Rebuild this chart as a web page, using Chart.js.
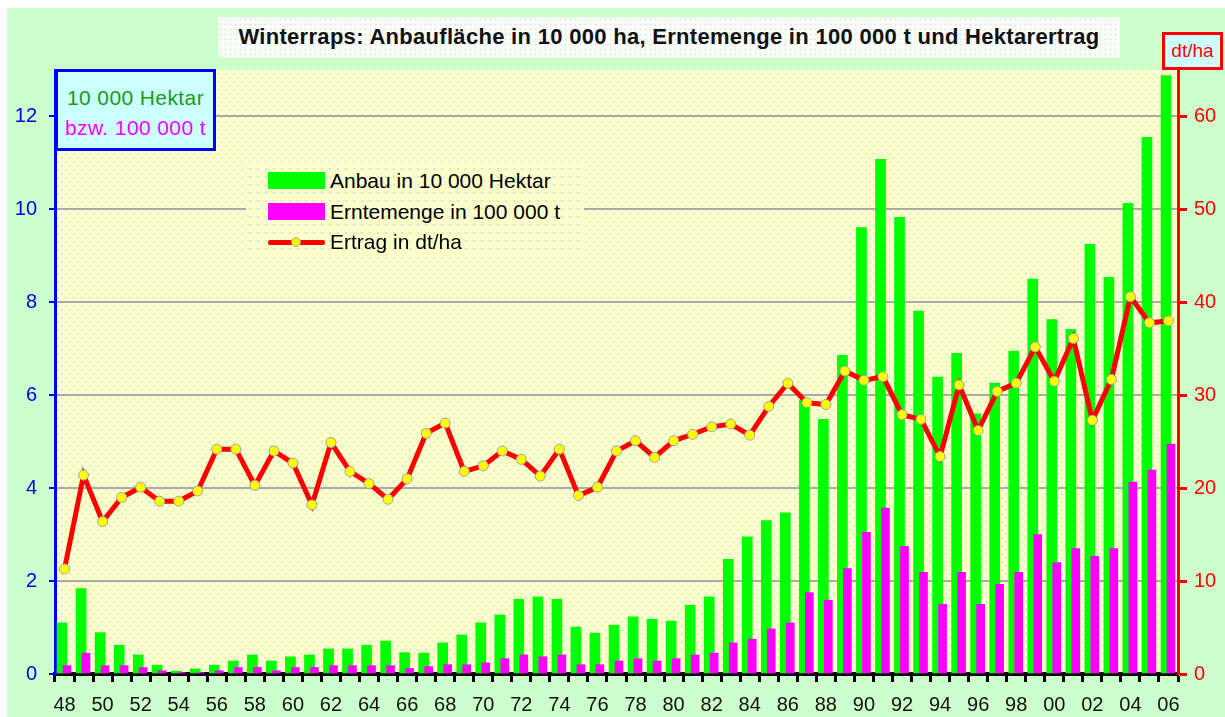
<!DOCTYPE html>
<html>
<head>
<meta charset="utf-8">
<title>Winterraps</title>
<script src="https://cdn.jsdelivr.net/npm/chart.js@4.4.1/dist/chart.umd.min.js"></script>
<style>
    body { margin: 0; background: #ffffff; font-family: 'Liberation Sans', Arial, sans-serif; }
    #page { position: absolute; left: 7px; top: 8px; width: 1218px; height: 709px; background: #ccffcc; }
    #rapsChart { position: absolute; left: 0; top: 0; z-index: 1; }
    .box { position: absolute; z-index: 2; box-sizing: border-box; }
    #title {
        left: 218px; top: 17px; width: 902px; height: 40px;
        background-color: #fafdfa;
        background-image: radial-gradient(#dde8dd 0.8px, transparent 1.2px);
        background-size: 5px 5px;
        font-weight: bold; font-size: 22px; letter-spacing: 0.3px; line-height: 40px; text-align: center; color: #111;
    }
    #unitLeft {
        left: 55px; top: 69px; width: 161px; height: 82px;
        border: 3px solid #0000ff; background: #ccffff;
        font-size: 21px; letter-spacing: 0.4px; text-align: center; padding-top: 11px; line-height: 30px;
    }
    #unitLeft .g { color: #1a9a1a; display: block; }
    #unitLeft .m { color: #ff00ff; display: block; }
    #unitRight {
        left: 1162px; top: 32px; width: 61px; height: 38px;
        border: 3px solid #ff0000; background: #ccffff;
        color: #ff0000; font-size: 19px; line-height: 32px; text-align: center;
    }
    #legend {
        left: 246px; top: 165px; width: 338px; height: 90px;
        background-color: #ffffcc;
        background-image: radial-gradient(#c4eed4 0.9px, transparent 1.3px);
        background-size: 8px 8px;
    }
    .item { position: absolute; left: 22px; height: 30px; width: 320px; }
    .swatch { position: absolute; left: 0; top: 6px; width: 57px; height: 17px; }
    .lineSample { position: absolute; left: 0; top: 13px; width: 57px; height: 5px; background: #ff0000; border-radius: 2px; }
    .dot { position: absolute; left: 23px; top: 10px; width: 10px; height: 10px; border-radius: 50%; background: #ffff00; border: 1px solid #a0a0a0; box-sizing: border-box; }
    .label { position: absolute; left: 62px; top: 0; font-size: 21px; line-height: 30px; color: #000; white-space: nowrap; }
</style>
</head>
<body>
<div id="page"></div>
<canvas id="rapsChart" width="1225" height="717"></canvas>
<div id="title" class="box">Winterraps: Anbaufläche in 10 000 ha, Erntemenge in 100 000 t und Hektarertrag</div>
<div id="unitLeft" class="box"><span class="g">10 000 Hektar</span><span class="m">bzw. 100 000 t</span></div>
<div id="unitRight" class="box">dt/ha</div>
<div id="legend" class="box">
    <div class="item" style="top: 1px;"><div class="swatch" style="background:#00ff00"></div><div class="label">Anbau in 10 000 Hektar</div></div>
    <div class="item" style="top: 32px;"><div class="swatch" style="background:#ff00ff"></div><div class="label">Erntemenge in 100 000 t</div></div>
    <div class="item" style="top: 62px;"><div class="lineSample"></div><div class="dot"></div><div class="label">Ertrag in dt/ha</div></div>
</div>
<script>
// Jahre 1948 - 2006
const years = [
    '48', '49', '50', '51', '52', '53', '54', '55', '56', '57',
    '58', '59', '60', '61', '62', '63', '64', '65', '66', '67',
    '68', '69', '70', '71', '72', '73', '74', '75', '76', '77',
    '78', '79', '80', '81', '82', '83', '84', '85', '86', '87',
    '88', '89', '90', '91', '92', '93', '94', '95', '96', '97',
    '98', '99', '00', '01', '02', '03', '04', '05', '06'
];

// Anbau in 10 000 ha
const anbau = [
    1.10, 1.84, 0.89, 0.62, 0.41, 0.19, 0.06, 0.11, 0.19, 0.28,
    0.41, 0.28, 0.37, 0.41, 0.54, 0.54, 0.62, 0.71, 0.46, 0.45,
    0.67, 0.84, 1.10, 1.27, 1.61, 1.66, 1.61, 1.01, 0.88, 1.05,
    1.23, 1.18, 1.14, 1.48, 1.66, 2.47, 2.95, 3.30, 3.47, 5.90,
    5.48, 6.86, 9.61, 11.08, 9.83, 7.81, 6.39, 6.90, 5.60, 6.26,
    6.95, 8.50, 7.63, 7.42, 9.25, 8.54, 10.13, 11.55, 12.88
];

// Erntemenge in 100 000 t
const ernte = [
    0.18, 0.45, 0.18, 0.18, 0.14, 0.07, 0.03, 0.03, 0.07, 0.14,
    0.14, 0.07, 0.14, 0.14, 0.18, 0.18, 0.18, 0.18, 0.12, 0.16,
    0.20, 0.20, 0.24, 0.33, 0.41, 0.37, 0.41, 0.20, 0.20, 0.28,
    0.33, 0.28, 0.33, 0.41, 0.45, 0.67, 0.75, 0.97, 1.10, 1.75,
    1.59, 2.27, 3.05, 3.57, 2.75, 2.19, 1.50, 2.19, 1.50, 1.93,
    2.19, 3.00, 2.40, 2.70, 2.53, 2.70, 4.13, 4.39, 4.95
];

// Ertrag in dt/ha
const ertrag = [
    11.3, 21.4, 16.4, 19.0, 20.1, 18.6, 18.6, 19.7, 24.2, 24.2,
    20.3, 24.0, 22.7, 18.2, 24.9, 21.8, 20.5, 18.8, 21.0, 25.9,
    27.0, 21.8, 22.4, 24.0, 23.1, 21.3, 24.2, 19.2, 20.1, 24.0,
    25.1, 23.3, 25.1, 25.8, 26.6, 26.9, 25.7, 28.8, 31.3, 29.2,
    29.0, 32.6, 31.6, 32.0, 27.9, 27.4, 23.4, 31.1, 26.2, 30.4,
    31.3, 35.2, 31.5, 36.1, 27.3, 31.7, 40.6, 37.8, 38.0
];

const leftTicks = [0, 2, 4, 6, 8, 10, 12];
const rightTicks = [0, 10, 20, 30, 40, 50, 60];

// bars of one year sit side by side and overlap a little
const barShift = 0.13;

// yellow dotted plot background
function makePattern(ctx) {
    const p = document.createElement('canvas');
    p.width = 8;
    p.height = 8;
    const pc = p.getContext('2d');
    pc.fillStyle = '#ffffcc';
    pc.fillRect(0, 0, 8, 8);
    pc.fillStyle = '#cdf0d0';
    pc.fillRect(1, 1, 2, 2);
    pc.fillRect(5, 5, 2, 2);
    return ctx.createPattern(p, 'repeat');
}

const plotBackground = {
    id: 'plotBackground',
    beforeDraw(chart) {
        const { ctx, chartArea } = chart;
        ctx.save();
        ctx.fillStyle = makePattern(ctx);
        ctx.fillRect(chartArea.left, chartArea.top, chartArea.right - chartArea.left, chartArea.bottom - chartArea.top);
        ctx.restore();
    }
};

Chart.defaults.font.family = "'Liberation Sans', Arial, sans-serif";
Chart.defaults.font.size = 20;

const ctx = document.getElementById('rapsChart');

new Chart(ctx, {
    type: 'bar',
    data: {
        labels: years,
        datasets: [
            {
                type: 'line',
                label: 'Ertrag in dt/ha',
                data: ertrag,
                xAxisID: 'x',
                yAxisID: 'y2',
                borderColor: '#ff0000',
                borderWidth: 5,
                tension: 0,
                pointStyle: 'circle',
                pointRadius: 5,
                pointBackgroundColor: '#ffff00',
                pointBorderColor: '#a0a0a0',
                pointBorderWidth: 1,
                order: 0
            },
            {
                label: 'Erntemenge in 100 000 t',
                data: ernte.map((v, i) => ({ x: i, y: v })),
                xAxisID: 'xm',
                yAxisID: 'y',
                backgroundColor: '#ff00ff',
                barThickness: 8,
                grouped: false,
                order: 1
            },
            {
                label: 'Anbau in 10 000 Hektar',
                data: anbau.map((v, i) => ({ x: i, y: v })),
                xAxisID: 'xg',
                yAxisID: 'y',
                backgroundColor: '#00ff00',
                barThickness: 10,
                grouped: false,
                order: 2
            }
        ]
    },
    options: {
        responsive: false,
        devicePixelRatio: 1,
        animation: false,
        layout: {
            padding: { top: 70, left: 0, right: 0, bottom: 0 }
        },
        plugins: {
            legend: { display: false },
            tooltip: { enabled: false }
        },
        scales: {
            x: {
                type: 'category',
                offset: true,
                grid: {
                    display: true,
                    offset: true,
                    drawOnChartArea: false,
                    drawTicks: true,
                    tickLength: 8,
                    tickWidth: 3,
                    tickColor: '#000000'
                },
                border: { color: '#000000', width: 4 },
                ticks: {
                    autoSkip: false,
                    maxRotation: 0,
                    color: '#111111',
                    padding: 11,
                    callback: function(value, index) {
                        return index % 2 === 0 ? years[index] : '';
                    }
                },
                afterFit: function(scale) { scale.height = 43; }
            },
            // hidden helper axes, one per bar series (green left, magenta right)
            xg: {
                type: 'linear',
                display: false,
                offset: false,
                min: -0.5 + barShift,
                max: years.length - 0.5 + barShift
            },
            xm: {
                type: 'linear',
                display: false,
                offset: false,
                min: -0.5 - barShift,
                max: years.length - 0.5 - barShift
            },
            y: {
                position: 'left',
                min: 0,
                max: 13,
                afterBuildTicks: function(scale) {
                    scale.ticks = leftTicks.map(v => ({ value: v }));
                },
                grid: {
                    color: '#aaaaaa',
                    lineWidth: 2,
                    tickLength: 6,
                    tickWidth: 2,
                    tickColor: '#0000ff'
                },
                border: { color: '#0000ff', width: 3 },
                ticks: { color: '#0000ee', padding: 12 },
                afterFit: function(scale) { scale.width = 55; }
            },
            y2: {
                position: 'right',
                min: 0,
                max: 65,
                afterBuildTicks: function(scale) {
                    scale.ticks = rightTicks.map(v => ({ value: v }));
                },
                grid: {
                    drawOnChartArea: false,
                    tickLength: 9,
                    tickWidth: 3,
                    tickColor: '#ff0000'
                },
                border: { color: '#ff0000', width: 3 },
                ticks: { color: '#ff0000', padding: 7 },
                afterFit: function(scale) { scale.width = 47; }
            }
        }
    },
    plugins: [plotBackground]
});
</script>
</body>
</html>
